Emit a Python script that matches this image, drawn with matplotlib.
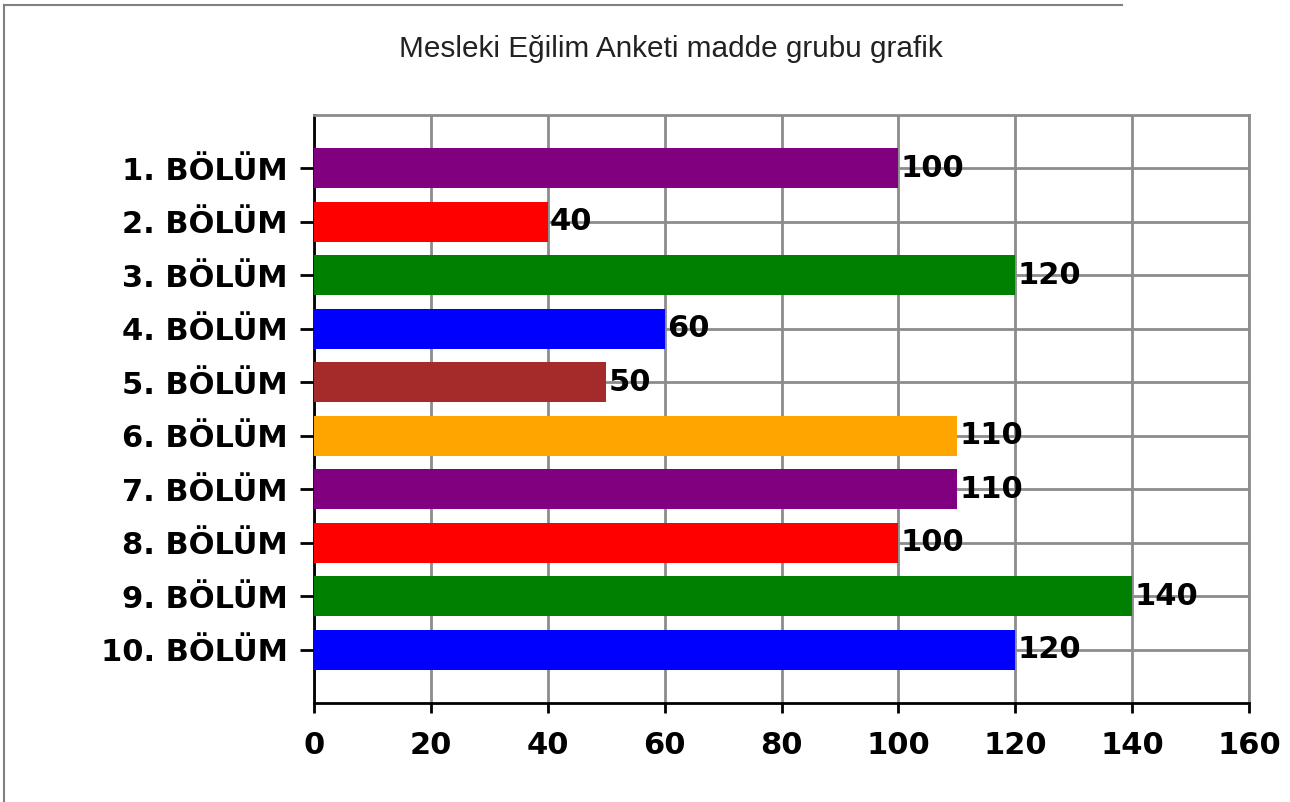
import matplotlib
matplotlib.use("Agg")
import matplotlib.pyplot as plt
from matplotlib.lines import Line2D

# data
categories = ["1. BÖLÜM", "2. BÖLÜM", "3. BÖLÜM", "4. BÖLÜM", "5. BÖLÜM",
              "6. BÖLÜM", "7. BÖLÜM", "8. BÖLÜM", "9. BÖLÜM", "10. BÖLÜM"]
values = [100, 40, 120, 60, 50, 110, 110, 100, 140, 120]
colors = ["#800080", "#FF0000", "#008000", "#0000FF", "#A52A2A",
          "#FFA500", "#800080", "#FF0000", "#008000", "#0000FF"]
xticks = [0, 20, 40, 60, 80, 100, 120, 140, 160]

W, H = 1290, 802
fig = plt.figure(figsize=(W / 100, H / 100), dpi=100)
ax = fig.add_axes([314 / W, 1 - 703 / H, (1249 - 314) / W, (703 - 115) / H])

pos = list(range(1, len(categories) + 1))
ax.barh(pos, values, height=0.75, color=colors, zorder=3)
for p, v in zip(pos, values):
    ax.text(v + 0.4, p, str(v), va="center", ha="left", fontsize=22,
            fontweight="bold", color="black", zorder=4)

ax.set_xlim(0, 160)
ax.set_ylim(11, 0)
ax.set_xticks(xticks)
ax.set_yticks(pos)
ax.set_yticklabels(categories)
ax.grid(True, color="#8c8c8c", linewidth=2, zorder=0)
ax.tick_params(axis="both", labelsize=22, width=2, color="black")
ax.tick_params(axis="x", length=7, pad=13)
ax.tick_params(axis="y", length=10, pad=9)
for lab in ax.get_xticklabels() + ax.get_yticklabels():
    lab.set_fontweight("bold")

for s in ["left", "bottom"]:
    ax.spines[s].set_color("black")
    ax.spines[s].set_linewidth(2)
for s in ["top", "right"]:
    ax.spines[s].set_color("#8c8c8c")
    ax.spines[s].set_linewidth(2)

fig.text(671 / W, 1 - 49 / H, "Mesleki Eğilim Anketi madde grubu grafik",
         ha="center", va="center", fontsize=21.4, color="#222222",
         family="Liberation Sans")

# outer frame (top and left edges only, as in the screenshot)
fig.add_artist(Line2D([4 / W, 1122 / W], [1 - 5 / H, 1 - 5 / H], color="#808080", linewidth=1.5))
fig.add_artist(Line2D([4 / W, 4 / W], [0, 1 - 5 / H], color="#808080", linewidth=1.5))

fig.savefig("out.png", dpi=100)
